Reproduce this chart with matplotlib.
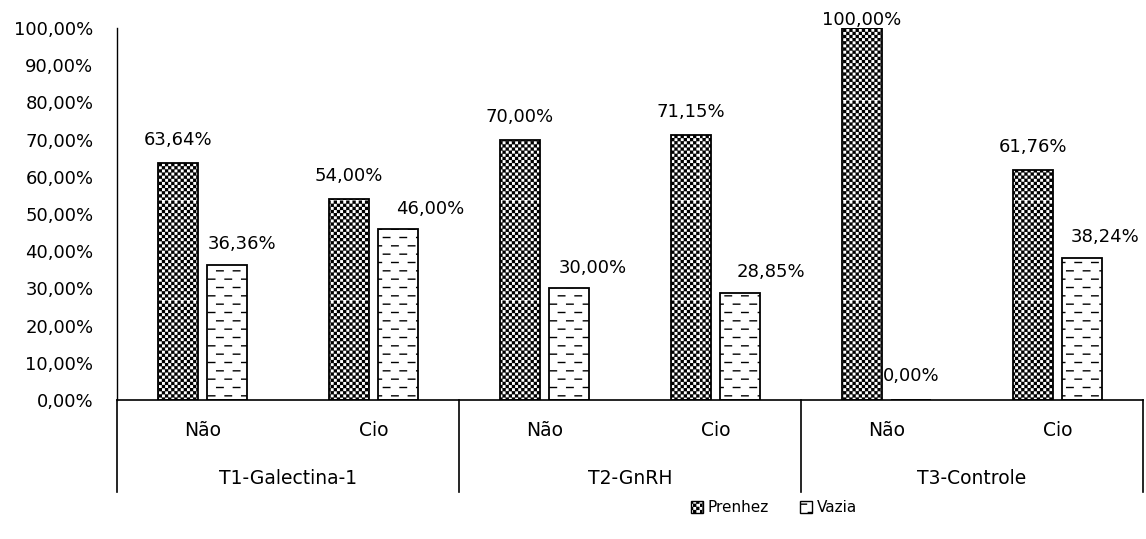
import numpy as np
import matplotlib.pyplot as plt
import matplotlib.hatch as mhatch
from matplotlib.path import Path
from matplotlib.patches import Patch

# data
groups = ['T1-Galectina-1', 'T2-GnRH', 'T3-Controle']
subcats = ['Não', 'Cio', 'Não', 'Cio', 'Não', 'Cio']
prenhez = [63.64, 54.00, 70.00, 71.15, 100.00, 61.76]
vazia = [36.36, 46.00, 30.00, 28.85, 0.00, 38.24]
yticks = np.arange(0, 101, 10)

# the Vazia labels were nudged right by hand in the original (pixels)
vazia_dx = [15, 32, 24, 31, 0, 23]


# excel-like patterns: '.' -> small checkerboard, '-' -> dashed rows
class ExcelHatch(mhatch.HatchPatternBase):
    filled = True

    def __init__(self, hatch, density):
        self.check = '.' in hatch
        self.dash = '-' in hatch
        self.nc = 32          # checker cells per tile
        self.nr, self.nd = 12, 6   # dash rows, dashes per row
        self.num_vertices = 0
        if self.check:
            self.num_vertices += (self.nc * self.nc // 2) * 5
        if self.dash:
            self.num_vertices += self.nr * (self.nd + 1) * 2

    def set_vertices_and_codes(self, vertices, codes):
        k = 0
        if self.check:
            c = 1.0 / self.nc
            s = c - 0.012
            for i in range(self.nc):
                for j in range(self.nc):
                    if (i + j) % 2:
                        continue
                    x0, y0 = j * c, i * c
                    vertices[k:k + 5] = [(x0, y0), (x0 + s, y0), (x0 + s, y0 + s),
                                         (x0, y0 + s), (x0, y0)]
                    codes[k:k + 5] = [Path.MOVETO, Path.LINETO, Path.LINETO,
                                      Path.LINETO, Path.CLOSEPOLY]
                    k += 5
        if self.dash:
            p = 1.0 / self.nd
            dl = 0.065
            for r in range(self.nr):
                y = (r + 0.5) / self.nr
                sh = (p / 2) * (r % 2) - p / 2
                for d in range(self.nd + 1):
                    x0 = d * p + sh
                    vertices[k] = (x0, y)
                    vertices[k + 1] = (x0 + dl, y)
                    codes[k] = Path.MOVETO
                    codes[k + 1] = Path.LINETO
                    k += 2


mhatch._hatch_types = [ExcelHatch]
plt.rcParams['hatch.linewidth'] = 1.0
plt.rcParams['font.family'] = 'DejaVu Sans'

fig = plt.figure(figsize=(11.46, 5.39), dpi=100)
ax = fig.add_axes([117 / 1146, 139 / 539, 1026 / 1146, 372 / 539])

x = np.arange(len(subcats)) + 0.5
w = 0.23
b1 = ax.bar(x - 0.143, prenhez, w, color='white', edgecolor='black', hatch='.', lw=1.3)
b2 = ax.bar(x + 0.143, vazia, w, color='white', edgecolor='black', hatch='-', lw=1.3)

def fmt(v):
    return f'{v:.2f}%'.replace('.', ',')

for r, v in zip(b1, prenhez):
    off = 2 if v >= 100 else 13
    ax.annotate(fmt(v), (r.get_x() + r.get_width() / 2, v), xytext=(0, off),
                textcoords='offset points', ha='center', va='baseline',
                fontsize=13, annotation_clip=False)
for r, v, dx in zip(b2, vazia, vazia_dx):
    off = 14 if v == 0 else 11
    ax.annotate(fmt(v), (r.get_x() + r.get_width() / 2, v), xytext=(dx * 0.72, off),
                textcoords='offset points', ha='center', va='baseline',
                fontsize=13, annotation_clip=False)

ax.set_xlim(0, 6)
ax.set_ylim(0, 100)
ax.set_yticks(yticks)
ax.set_yticklabels([fmt(t) for t in yticks], fontsize=13)
ax.tick_params(axis='y', length=0, pad=17)
ax.set_xticks([])
for s in ['top', 'right']:
    ax.spines[s].set_visible(False)
ax.spines['left'].set_linewidth(1.0)
ax.spines['bottom'].set_linewidth(1.2)

# category axis below the plot
tr = ax.get_xaxis_transform()
for xb in [0, 2, 4, 6]:
    ax.plot([xb, xb], [0, -92 / 372], color='black', lw=1.2, transform=tr, clip_on=False)
for xi, s in zip(x, subcats):
    ax.text(xi, -31 / 372, s, transform=tr, ha='center', va='center', fontsize=13.5)
for i, g in enumerate(groups):
    ax.text(2 * i + 1, -78 / 372, g, transform=tr, ha='center', va='center', fontsize=13.5)

handles = [Patch(facecolor='white', edgecolor='black', hatch='.', label='Prenhez'),
           Patch(facecolor='white', edgecolor='black', hatch='-', label='Vazia')]
fig.legend(handles=handles, loc='center', bbox_to_anchor=(774 / 1146, 1 - 508 / 539),
           ncol=2, frameon=False, prop={'size': 11},
           handlelength=0.8, handleheight=0.8, handletextpad=0.3, columnspacing=2.0)

fig.savefig('out.png', dpi=100)
